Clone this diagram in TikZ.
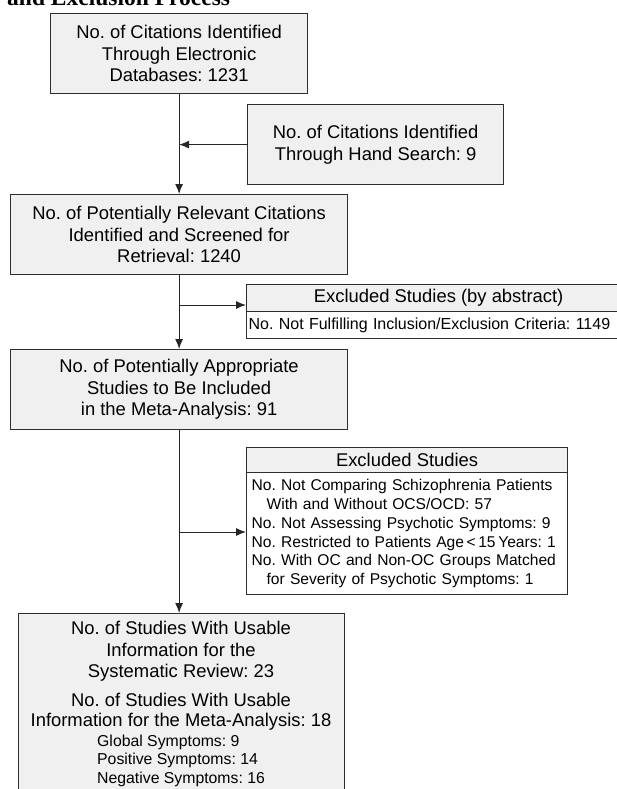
\documentclass[tikz,border=0pt]{standalone}
\usepackage{fontspec}
\setmainfont{Liberation Sans}
\newfontfamily\titlefont{Liberation Serif}
\usetikzlibrary{arrows.meta}
\definecolor{boxfill}{RGB}{240,240,240}
\definecolor{boxline}{RGB}{45,45,45}
\frenchspacing
\begin{document}
\frenchspacing
\begin{tikzpicture}[x=1pt,y=-1pt,
  mainbox/.style={draw=boxline, fill=boxfill, line width=1.2pt, inner sep=0pt, align=center, anchor=north west, font=\fontsize{18.4}{21.5}\selectfont},
  headbox/.style={draw=boxline, fill=boxfill, line width=1.2pt, inner sep=0pt, anchor=north west, font=\fontsize{18.4}{21.5}\selectfont},
  bodybox/.style={draw=boxline, fill=white, line width=1.2pt, anchor=north west, inner ysep=0pt, align=left},
  plain/.style={inner sep=0pt},
  conn/.style={draw=black!85, line width=1pt},
  arr/.style={conn, -{Latex[length=10pt,width=8pt]}}
]
\useasboundingbox (0,0) rectangle (617,789);
\clip (0,0) rectangle (617,789);

\node[plain, anchor=base west, font=\titlefont\bfseries\fontsize{23.5}{26}\selectfont] (title) at (7,6) {and Exclusion Process};

\node[mainbox, minimum width=257pt, minimum height=80pt] (db) at (50,13)
  {No. of Citations Identified\\Through Electronic\\Databases: 1231};
\node[mainbox, minimum width=256pt, minimum height=80pt] (hand) at (247,104)
  {No. of Citations Identified\\Through Hand Search: 9};
\node[mainbox, minimum width=337pt, minimum height=80pt] (screen) at (10,194)
  {No. of Potentially Relevant Citations\\Identified and Screened for\\Retrieval: 1240};
\node[mainbox, minimum width=337pt, minimum height=80pt] (approp) at (10,349)
  {No. of Potentially Appropriate\\Studies to Be Included\\in the Meta-Analysis: 91};

% excluded by abstract
\node[headbox, minimum width=384pt, minimum height=27pt] (ex1head) at (246,284)
  {Excluded Studies (by abstract)};
\node[bodybox, minimum height=27pt, text width=380pt, inner xsep=2pt, font=\fontsize{16}{19}\selectfont] (ex1body) at (246,311)
  {No. Not Fulfilling Inclusion/Exclusion Criteria: 1149};

% excluded studies
\node[headbox, minimum width=321pt, minimum height=25pt] (ex2head) at (246,447)
  {Excluded Studies};
\node[bodybox, minimum height=122pt, text width=311pt, inner xsep=5pt, font=\fontsize{15.6}{18.8}\selectfont] (ex2body) at (246,472)
  {No. Not Comparing Schizophrenia Patients\\
   \hspace*{15pt}With and Without OCS/OCD: 57\\
   No. Not Assessing Psychotic Symptoms: 9\\
   No. Restricted to Patients Age\,<\,15\,Years: 1\\
   No. With OC and Non-OC Groups Matched\\
   \hspace*{15pt}for Severity of Psychotic Symptoms: 1};

% final box
\node[mainbox, minimum width=326pt, minimum height=200pt] (final) at (18,613) {};
\node[plain, align=center, font=\fontsize{18.4}{21.5}\selectfont] (review) at (181,651.5)
  {No. of Studies With Usable\\Information for the\\Systematic Review: 23};
\node[plain, align=center, font=\fontsize{18.4}{20}\selectfont] (meta) at (181,712)
  {No. of Studies With Usable\\Information for the Meta-Analysis: 18};
\node[plain, align=left, anchor=west, font=\fontsize{15.8}{18.5}\selectfont] (subs) at (97,760.5)
  {Global Symptoms: 9\\Positive Symptoms: 14\\Negative Symptoms: 16};

% connectors
\draw[arr] (db.south) -- (screen.north);
\coordinate (j0) at (db.south |- hand.west);
\draw[arr] (hand.west) -- (j0);
\draw[arr] (screen.south) -- (approp.north);
\coordinate (j1) at (screen.south |- 0,305);
\draw[arr] (j1) -- (j1 -| ex1head.west);
\draw[arr] (approp.south) -- (approp.south |- final.north);
\coordinate (j2) at (approp.south |- 0,532);
\draw[arr] (j2) -- (j2 -| ex2body.west);
\end{tikzpicture}
\end{document}
